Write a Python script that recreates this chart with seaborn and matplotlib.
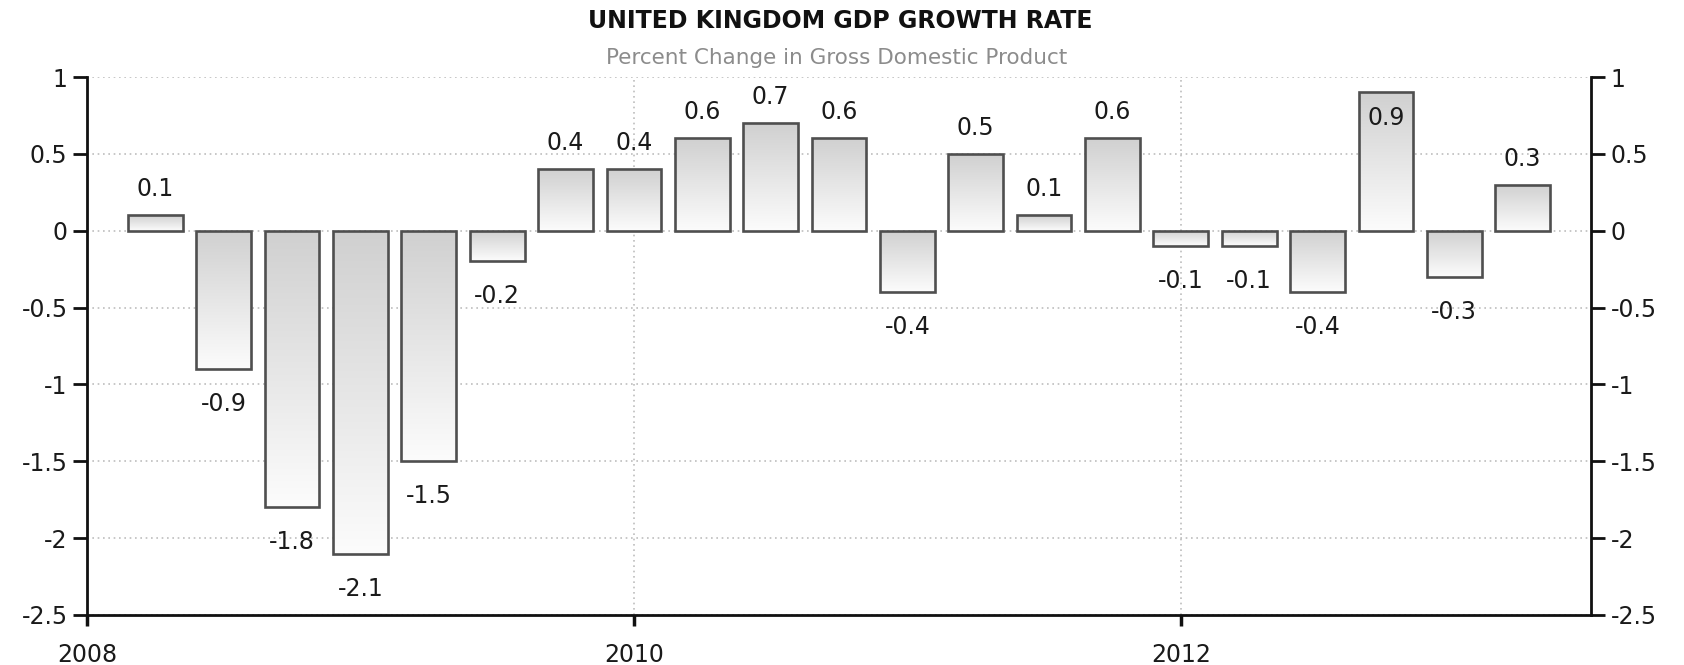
import numpy as np
import pandas as pd
import seaborn as sns
import matplotlib
matplotlib.use('Agg')
import matplotlib.pyplot as plt
from matplotlib.colors import LinearSegmentedColormap

# quarterly GDP growth, 2008 Q1 .. 2013 Q1
years = [2008] * 4 + [2009] * 4 + [2010] * 4 + [2011] * 4 + [2012] * 4 + [2013]
quarters = [1, 2, 3, 4] * 5 + [1]
growth = [0.1, -0.9, -1.8, -2.1,
          -1.5, -0.2, 0.4, 0.4,
          0.6, 0.7, 0.6, -0.4,
          0.5, 0.1, 0.6, -0.1,
          -0.1, -0.4, 0.9, -0.3,
          0.3]
year_ticks = [2008, 2010, 2012]
y_ticks = [-2.5, -2, -1.5, -1, -0.5, 0, 0.5, 1]

df = pd.DataFrame({'year': years, 'quarter': quarters, 'growth': growth})
# bars sit at quarter end
df['date'] = df['year'] + df['quarter'] / 4.0

sns.set_style('white')
plt.rcParams['font.family'] = ['DejaVu Sans']
plt.rcParams['axes.unicode_minus'] = False

txt = '#1a1a1a'
fig = plt.figure(figsize=(16.84, 6.65), dpi=100)
ax = fig.add_axes([87 / 1684, 1 - 615 / 665, (1591 - 87) / 1684, (615 - 77) / 665])

sns.barplot(data=df, x='date', y='growth', native_scale=True, width=0.8,
            errorbar=None, color='#e0e0e0', edgecolor='#4f4f4f',
            linewidth=1.9, ax=ax)

# vertical gradient inside each bar, dark at top, light at bottom
cmap = LinearSegmentedColormap.from_list('bar', ['#d0d0d0', '#fcfcfc'])
grad = np.linspace(0, 1, 256).reshape(-1, 1)
for bar in list(ax.patches):
    x0, w = bar.get_x(), bar.get_width()
    y0, h = bar.get_y(), bar.get_height()
    im = ax.imshow(grad, extent=[x0, x0 + w, min(y0, y0 + h), max(y0, y0 + h)],
                   origin='upper', cmap=cmap, aspect='auto', zorder=2)
    im.set_clip_path(bar)
    bar.set_facecolor('none')
    bar.set_zorder(3)

# value labels
for d, v in zip(df['date'], df['growth']):
    s = f'{v:.1f}'
    if v > 0.8:
        ax.annotate(s, (d, v), xytext=(0, -14), textcoords='offset pixels',
                    ha='center', va='top', fontsize=17, color=txt, zorder=4)
    elif v >= 0:
        ax.annotate(s, (d, v), xytext=(0, 19), textcoords='offset pixels',
                    ha='center', va='baseline', fontsize=17, color=txt, zorder=4)
    else:
        ax.annotate(s, (d, v), xytext=(0, -23), textcoords='offset pixels',
                    ha='center', va='top', fontsize=17, color=txt, zorder=4)

ax.set_xlim(2008, 2013.5)
ax.set_ylim(-2.5, 1)
ax.set_xticks(year_ticks)
ax.set_xticklabels([str(y) for y in year_ticks])
ax.set_yticks(y_ticks)
ax.set_yticklabels([f'{t:g}' for t in y_ticks])
ax.set_xlabel('')
ax.set_ylabel('')

ax.grid(True, axis='both', linestyle=(0, (1, 2.2)), color='#bdbdbd', linewidth=1.2)
ax.set_axisbelow(True)

for side in ['left', 'right', 'bottom']:
    ax.spines[side].set_visible(True)
    ax.spines[side].set_color('#111111')
    ax.spines[side].set_linewidth(2)
ax.spines['top'].set_visible(False)

ax.tick_params(axis='y', which='both', left=True, right=True, labelleft=True,
               labelright=True, direction='out', length=10, width=2,
               color='#111111', labelsize=17, labelcolor=txt, pad=4)
ax.tick_params(axis='x', bottom=True, direction='out', length=8, width=2.5,
               color='#111111', labelsize=17, labelcolor=txt, pad=12)

fig.text(0.499, 1 - 21 / 665, 'UNITED KINGDOM GDP GROWTH RATE', ha='center',
         va='center', fontsize=17, fontweight='bold', color='#111111')
fig.text(0.497, 1 - 58 / 665, 'Percent Change in Gross Domestic Product',
         ha='center', va='center', fontsize=15.5, color='#8c8c8c')

fig.savefig('out.png', dpi=100)
